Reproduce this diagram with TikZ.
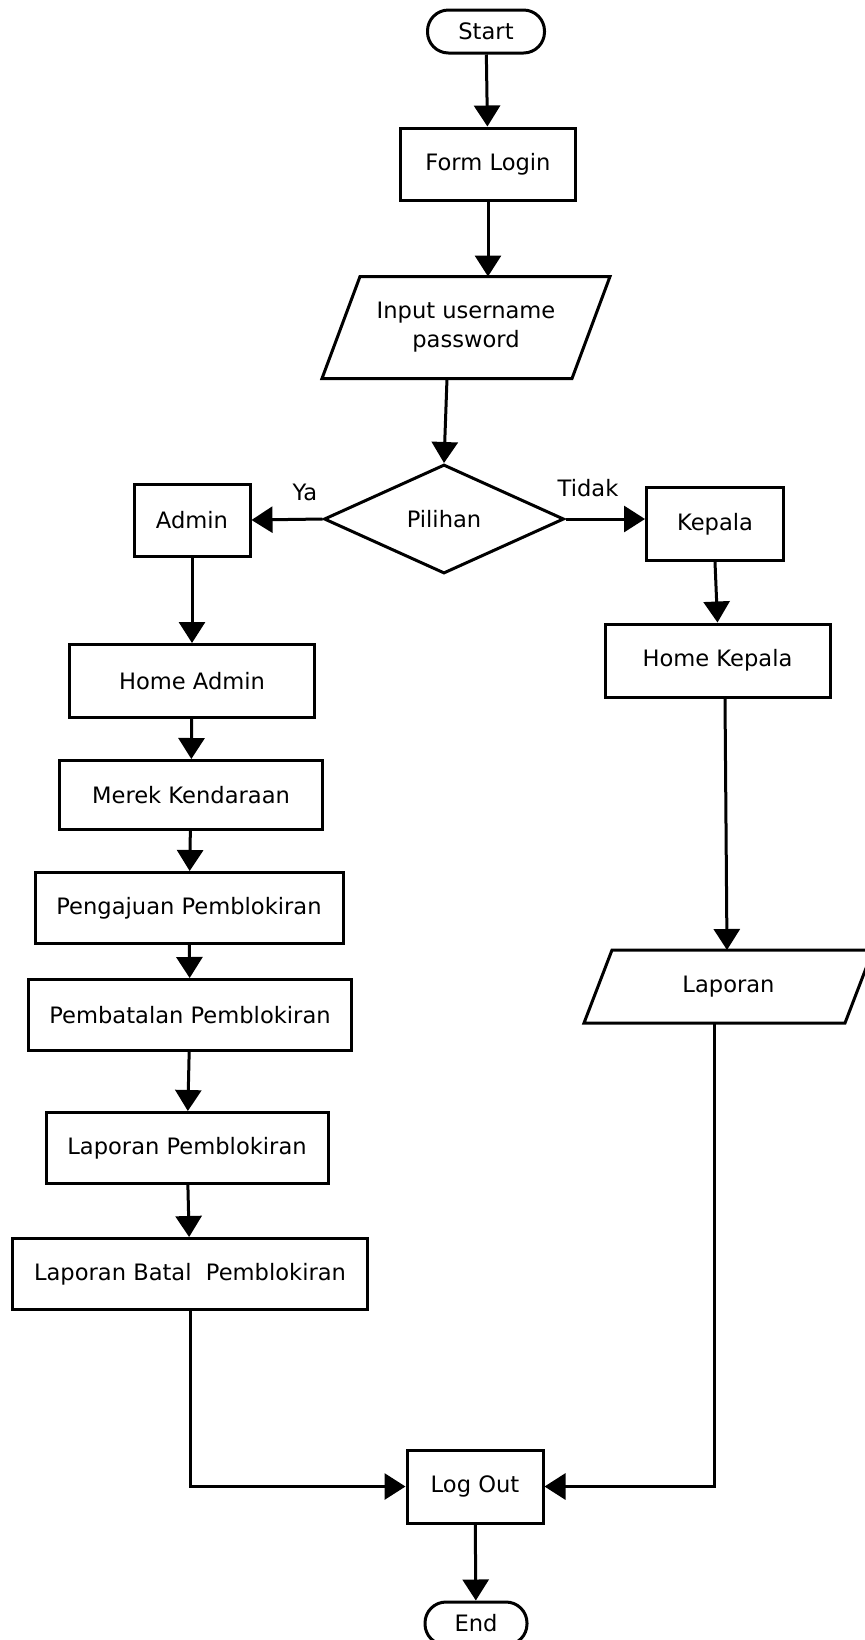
\documentclass[tikz,border=0pt]{standalone}
\usepackage{fontspec}
\setmainfont{DejaVu Sans}
\usetikzlibrary{arrows.meta,calc,shapes.geometric}
\begin{document}
\begin{tikzpicture}[x=0.5pt,y=-0.5pt,
  every node/.style={font=\fontsize{11.3}{14.5}\selectfont},
  sz/.style 2 args={minimum width=#1*0.5pt,minimum height=#2*0.5pt},
  box/.style={draw,line width=1.5pt,inner sep=0pt,align=center},
  term/.style={box,rounded corners=10.5pt},
  decision/.style={draw,diamond,line width=1.5pt,inner sep=0pt},
  io/.style={inner sep=0pt,align=center},
  flow/.style={line width=1.5pt,-{Triangle[length=10.5pt,width=13pt]}},
  link/.style={line width=1.5pt,line join=miter},
  lbl/.style={inner sep=0pt},
]
\useasboundingbox (0,0) rectangle (865,1640);

% main column
\node[term,sz={117}{43}] (start) at (486,31.5) {Start};
\node[box,sz={175}{72}] (login) at (488,164) {Form Login};
\node[io] (inp) at (466,327.5) {Input username\\password};
\draw[link] ($(inp)+(-144,51)$) -- ($(inp)+(106,51)$) -- ($(inp)+(144,-51)$) -- ($(inp)+(-106,-51)$) -- cycle;
\coordinate (inpN) at ($(inp)+(20,-51)$);
\coordinate (inpS) at ($(inp)+(-19,51)$);
\node[decision,sz={240}{109}] (pil) at (444,519) {Pilihan};

% admin branch
\node[box,sz={116}{72}] (admin) at (192,520) {Admin};
\node[box,sz={245}{73}] (hadmin) at (192,681) {Home Admin};
\node[box,sz={263}{69}] (merek) at (191,795) {Merek Kendaraan};
\node[box,sz={308}{71}] (ajuan) at (189,908) {Pengajuan Pemblokiran};
\node[box,sz={323}{71}] (batal) at (190,1015) {Pembatalan Pemblokiran};
\node[box,sz={282}{71}] (lappem) at (187,1148) {Laporan Pemblokiran};
\node[box,sz={355}{71}] (lapbat) at (190,1274) {Laporan Batal\ \ Pemblokiran};

% kepala branch
\node[box,sz={137}{73}] (kepala) at (715,524) {Kepala};
\node[box,sz={225}{73}] (hkepala) at (717.5,660.5) {Home Kepala};
\node[io] (lap) at (728.5,986.5) {Laporan};
\draw[link] ($(lap)+(-144.5,36.5)$) -- ($(lap)+(116.5,36.5)$) -- ($(lap)+(144.5,-36.5)$) -- ($(lap)+(-116.5,-36.5)$) -- cycle;
\coordinate (lapN) at ($(lap)+(-1.5,-36.5)$);
\coordinate (lapS) at ($(lap)+(-14,36.5)$);
\coordinate (hkS) at ($(hkepala.south)+(7.5,0)$);

% end
\node[box,sz={136}{73}] (logout) at (475,1486.5) {Log Out};
\node[term,sz={102}{43}] (end) at (476,1623.5) {End};

% labels
\node[lbl] (ya) at (305,492) {Ya};
\node[lbl] (tidak) at (588,488) {Tidak};

% connectors
\draw[flow] (start) -- (login);
\draw[flow] (login.south) -- (login.south |- inpN);
\draw[flow] (inpS) -- (pil.north);
\draw[flow] (pil.west) -- (admin.east);
\draw[flow] (pil.east) -- (pil.east -| kepala.west);
\draw[flow] (admin) -- (hadmin);
\draw[flow] (hadmin) -- (merek);
\draw[flow] (merek) -- (ajuan);
\draw[flow] (ajuan) -- (batal);
\draw[flow] (batal) -- (lappem);
\draw[flow] (lappem) -- (lapbat);
\draw[flow] (kepala.south) -- (hkepala.north);
\draw[flow] (hkS) -- (lapN);
\draw[flow] (lapbat.south) |- (logout.west);
\draw[flow] (lapS) |- (logout.east);
\draw[flow] (logout) -- (end);
\end{tikzpicture}
\end{document}
